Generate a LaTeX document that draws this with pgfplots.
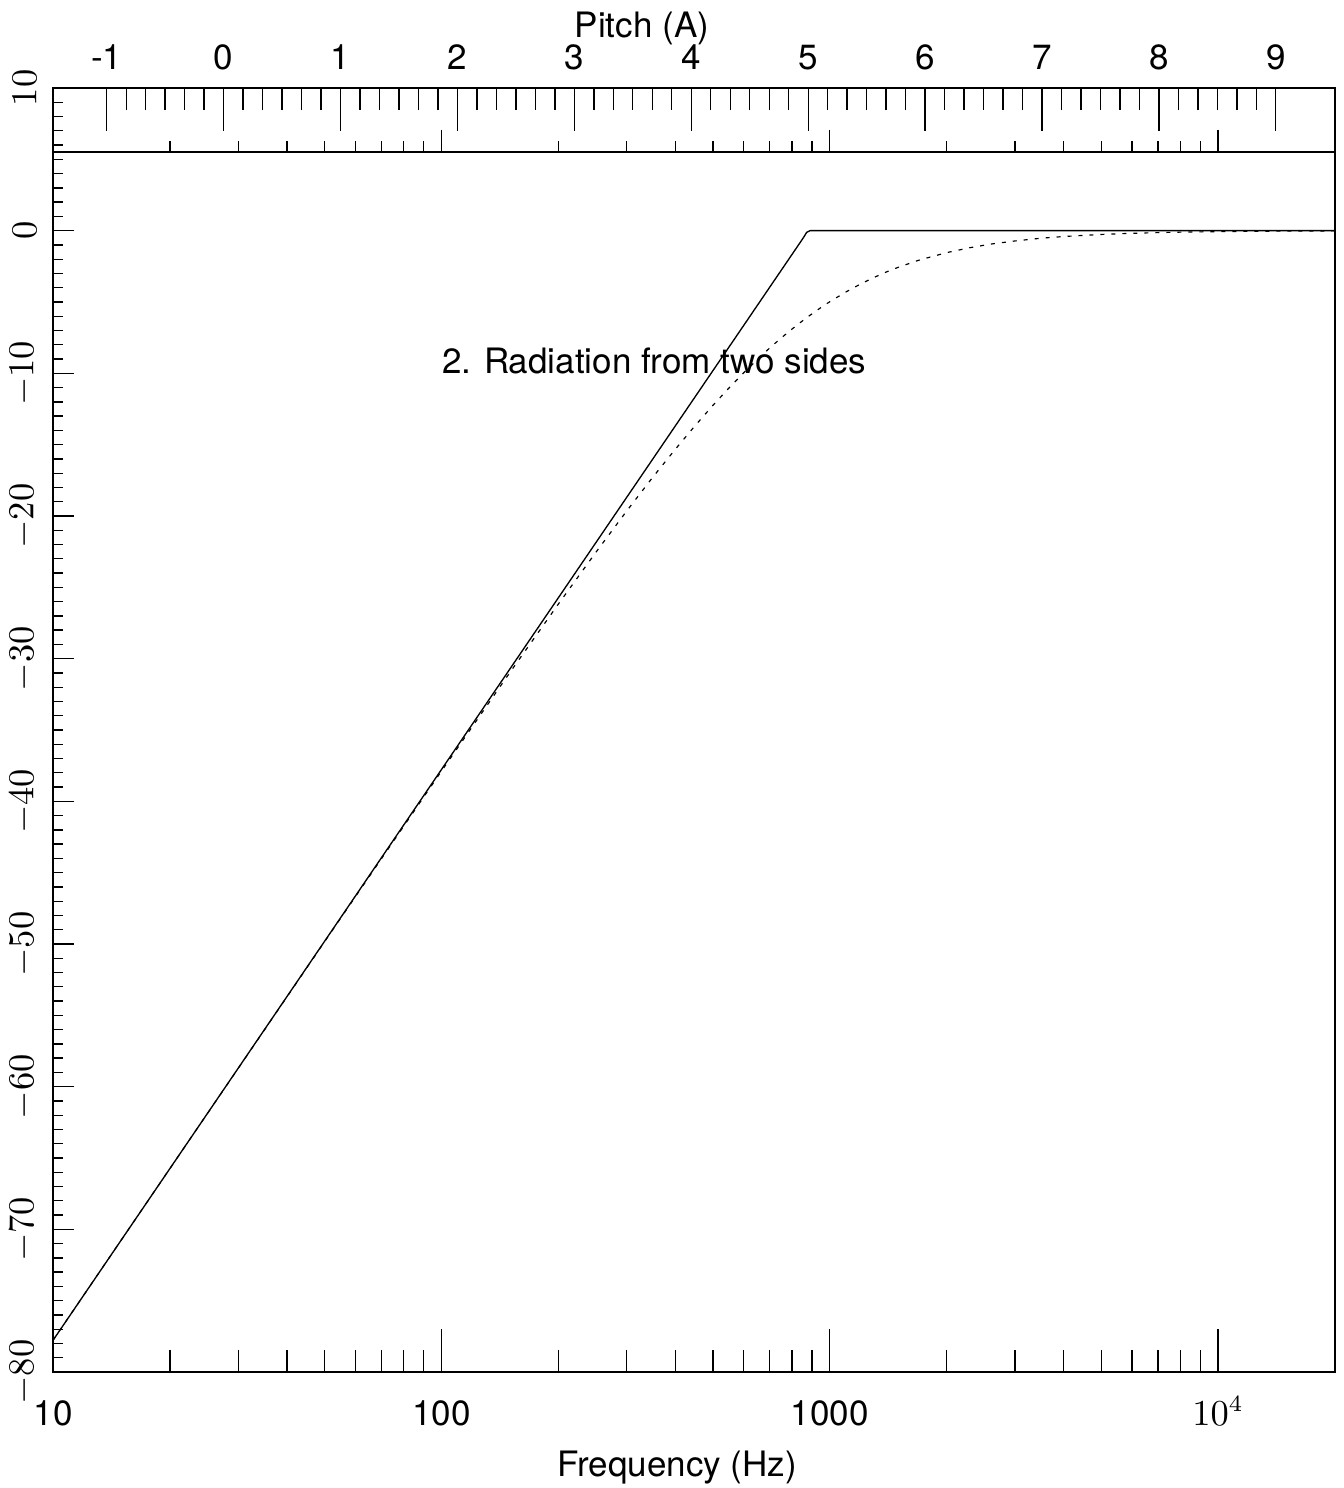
\documentclass[border=0pt]{standalone}
\usepackage{fontspec}
\setmainfont{TeX Gyre Heros}
\usepackage{pgfplots}
\pgfplotsset{compat=1.18}

% 1 px of the reference = 0.3pt
\newlength\axW \setlength\axW{384.6pt}
\newlength\axH \setlength\axH{385.2pt}

\pgfplotsset{
  every non boxed x axis/.style={},
  every non boxed y axis/.style={},
  every tick/.style={black, line width=0.4pt},
}

\begin{document}
\fontsize{10.5}{12.6}\selectfont
\begin{tikzpicture}
% main frame, curves and dB ticks
\begin{axis}[
    name=main,
    scale only axis,
    width=\axW, height=\axH,
    xmode=log,
    xmin=10, xmax=20000,
    ymin=-80, ymax=10,
    xtick=\empty,
    ytick={-80,-70,...,10},
    minor y tick num=9,
    ytick pos=left,
    tick align=inside,
    major tick length=6.3pt,
    minor tick length=3pt,
    yticklabel style={rotate=90, anchor=south, inner sep=0pt},
    yticklabel shift=4.8pt,
    axis line style={line width=0.6pt},
]
\addplot[black, line width=0.4pt] coordinates {
  (10,-77.78) (855,-0.5) (872,-0.12) (890,0) (20000,0)
};
\addplot[black, line width=0.35pt, dash pattern=on 1.2pt off 2.1pt] coordinates {
  (10,-77.78) (20,-65.74) (50,-49.85) (100,-37.89) (150,-30.98)
  (200,-26.18) (250,-22.54) (300,-19.65) (350,-17.29) (400,-15.33)
  (450,-13.67) (500,-12.25) (550,-11.03) (600,-9.97) (650,-9.05)
  (700,-8.23) (750,-7.52) (800,-6.89) (850,-6.33) (880,-6.02)
  (950,-5.38) (1000,-4.98) (1100,-4.30) (1200,-3.74) (1300,-3.28)
  (1400,-2.89) (1500,-2.57) (1700,-2.06) (2000,-1.54) (2300,-1.19)
  (2600,-0.94) (3000,-0.72) (3500,-0.53) (4000,-0.41) (5000,-0.265)
  (6000,-0.185) (7000,-0.136) (8000,-0.104) (10000,-0.067)
  (12000,-0.047) (15000,-0.030) (20000,-0.017)
};
\node[anchor=base west, inner sep=0pt] at (axis cs:100,-10) {2. Radiation from two sides};
\end{axis}

% frequency ticks and labels at the bottom
\begin{axis}[
    at={(main.south west)}, anchor=south west,
    scale only axis,
    width=\axW, height=\axH,
    xmode=log,
    xmin=10, xmax=20000,
    ymin=0, ymax=1,
    axis x line*=bottom,
    hide y axis,
    x axis line style={-, line width=0.6pt},
    xtick pos=left, xticklabel pos=left,
    xtick={10,100,1000,10000},
    xticklabels={10,100,1000,$10^4$},
    minor xtick={20,30,40,50,60,70,80,90,200,300,400,500,600,700,800,900,2000,3000,4000,5000,6000,7000,8000,9000},
    tick align=inside,
    major tick length=12.9pt,
    minor tick length=6.6pt,
    xticklabel style={anchor=base, yshift=-15.9pt},
    xlabel={Frequency (Hz)},
    xlabel style={at={(axis description cs:0.4867,0)}, anchor=base, yshift=-31.2pt},
]
\end{axis}

% the band line at 5.5 dB with frequency ticks
\begin{axis}[
    at={(main.north west)}, anchor=north west,
    scale only axis,
    width=\axW, height=19.26pt,
    xmode=log,
    xmin=10, xmax=20000,
    ymin=0, ymax=1,
    axis x line*=bottom,
    hide y axis,
    x axis line style={-, line width=0.5pt},
    xtick pos=left,
    xtick={100,1000,10000},
    xticklabels={},
    minor xtick={20,30,40,50,60,70,80,90,200,300,400,500,600,700,800,900,2000,3000,4000,5000,6000,7000,8000,9000},
    tick align=inside,
    major tick length=6.6pt,
    minor tick length=3.3pt,
]
\end{axis}

% pitch axis on top
\begin{axis}[
    at={(main.south west)}, anchor=south west,
    scale only axis,
    width=\axW, height=\axH,
    xmin=-1.45943, xmax=9.50642,
    ymin=0, ymax=1,
    axis x line*=top,
    hide y axis,
    x axis line style={-, line width=0.6pt},
    xtick pos=right, xticklabel pos=right,
    xtick={-1,0,...,9},
    xticklabels={-1,0,1,2,3,4,5,6,7,8,9},
    minor x tick num=5,
    tick align=inside,
    major tick length=12.9pt,
    minor tick length=6.6pt,
    xticklabel style={anchor=base, yshift=5.4pt},
    xlabel={Pitch (A)},
    xlabel style={at={(axis description cs:0.4594,1)}, anchor=base, yshift=15.2pt},
]
\end{axis}

\pgfresetboundingbox
\path[use as bounding box] ([xshift=-15.9pt, yshift=-34.8pt]main.south west) rectangle ([xshift=2.4pt, yshift=26.4pt]main.north east);
\end{tikzpicture}
\end{document}
